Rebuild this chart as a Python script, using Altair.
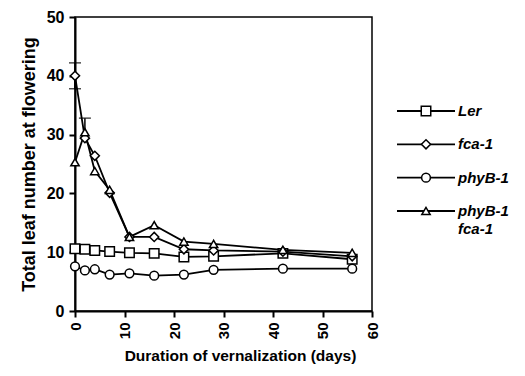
import altair as alt
import pandas as pd

days = [0, 2, 4, 7, 11, 16, 22, 28, 42, 56]
series_names = ["Ler", "fca-1", "phyB-1", "phyB-1 fca-1"]
legend_labels = ["Ler", "fca-1", "phyB-1", "phyB-1\nfca-1"]
ler = [10.6, 10.5, 10.3, 10.1, 9.9, 9.8, 9.2, 9.3, 9.8, 8.8]
fca = [40.0, 29.4, 26.4, 20.1, 12.6, 12.6, 10.5, 10.3, 10.1, 9.3]
phyb = [7.6, 6.9, 7.1, 6.2, 6.4, 6.0, 6.2, 7.0, 7.2, 7.2]
phyb_fca = [25.3, 30.4, 23.8, 20.6, 12.6, 14.6, 11.8, 11.4, 10.4, 9.9]
shapes = ["square", "diamond", "circle", "triangle-up"]
marker_sizes = [90, 70, 90, 80]

err_day = [0, 0, 2]
err_lo = [37.8, 37.8, 30.4]
err_hi = [42.2, 40.0, 32.8]
cap_val = [42.2, 37.8, 32.8]

rows = []
for name, vals in zip(series_names, [ler, fca, phyb, phyb_fca]):
    for d, v in zip(days, vals):
        rows.append({"day": d, "leaves": v, "series": name})
df = pd.DataFrame(rows)
edf = pd.DataFrame({"day": err_day, "lo": err_lo, "hi": err_hi})
cdf = pd.DataFrame({"day": err_day, "v": cap_val})
ldf = pd.DataFrame({"series": series_names, "label": legend_labels})

font = "Liberation Sans"
xs = alt.Scale(domain=[0, 60], nice=False)
ys = alt.Scale(domain=[0, 50], nice=False)
shape_scale = alt.Scale(domain=series_names, range=shapes)
size_scale = alt.Scale(domain=series_names, range=marker_sizes)

x_enc = alt.X("day:Q", scale=xs, axis=alt.Axis(
    values=[0, 10, 20, 30, 40, 50, 60], title="Duration of vernalization (days)",
    labelAngle=270, grid=False, titleX=165))
y_enc = alt.Y("leaves:Q", scale=ys, axis=alt.Axis(
    values=[0, 10, 20, 30, 40, 50], title="Total leaf number at flowering", grid=False))

lines = alt.Chart(df).mark_line(color="black", strokeWidth=1.8).encode(
    x=x_enc, y=y_enc, detail="series:N")

err = alt.Chart(edf).mark_rule(color="black", strokeWidth=1.5).encode(
    x=alt.X("day:Q", scale=xs), y=alt.Y("lo:Q", scale=ys), y2="hi:Q")
caps = alt.Chart(cdf).mark_tick(color="black", thickness=1.5, size=12, orient="horizontal").encode(
    x=alt.X("day:Q", scale=xs), y=alt.Y("v:Q", scale=ys))

pts = alt.Chart(df).mark_point(filled=False, color="black", fill="white", stroke="black",
                               strokeWidth=1.5, opacity=1, fillOpacity=1).encode(
    x=alt.X("day:Q", scale=xs), y=alt.Y("leaves:Q", scale=ys),
    shape=alt.Shape("series:N", scale=shape_scale, legend=None),
    size=alt.Size("series:N", scale=size_scale, legend=None))

# legend drawn beside the plot, one row per series
ly = alt.Y("series:N", scale=alt.Scale(type="point", domain=series_names, range=[94, 194], padding=0),
           axis=None)
leg_line = alt.Chart(ldf).mark_rule(color="black", strokeWidth=1.8).encode(
    x=alt.value(322), x2=alt.value(380), y=ly)
leg_pts = alt.Chart(ldf).mark_point(filled=False, color="black", fill="white", stroke="black",
                                    strokeWidth=1.5, opacity=1, fillOpacity=1).encode(
    x=alt.value(351), y=ly,
    shape=alt.Shape("series:N", scale=shape_scale, legend=None),
    size=alt.Size("series:N", scale=size_scale, legend=None))
leg_txt = alt.Chart(ldf).mark_text(align="left", baseline="top", dy=-7, font=font, fontSize=15,
                                   fontWeight="bold", fontStyle="italic", color="black",
                                   lineBreak="\n", lineHeight=18).encode(
    x=alt.value(383), y=ly, text="label:N")

main = alt.layer(lines, err, caps, pts)
legend = alt.layer(leg_line, leg_pts, leg_txt)

chart = alt.layer(main, legend).resolve_scale(y="independent").properties(
    width=297, height=294,
    autosize=alt.AutoSizeParams(type="none"),
    padding={"left": 67, "top": 9, "right": 145, "bottom": 58},
).configure_view(stroke="black", strokeWidth=1.5).configure_axis(
    domainColor="black", domainWidth=2, tickColor="black", tickWidth=2, tickSize=6,
    labelFont=font, labelFontWeight="bold", labelColor="black",
    titleFont=font, titleFontWeight="bold", titleColor="black",
    labelPadding=5,
).configure_axisY(titlePadding=8, labelFontSize=16, titleFontSize=18).configure_axisX(
    titlePadding=10, labelFontSize=15, titleFontSize=15.5)

chart.save("out.html", embed_options={"renderer": "svg", "actions": False})
